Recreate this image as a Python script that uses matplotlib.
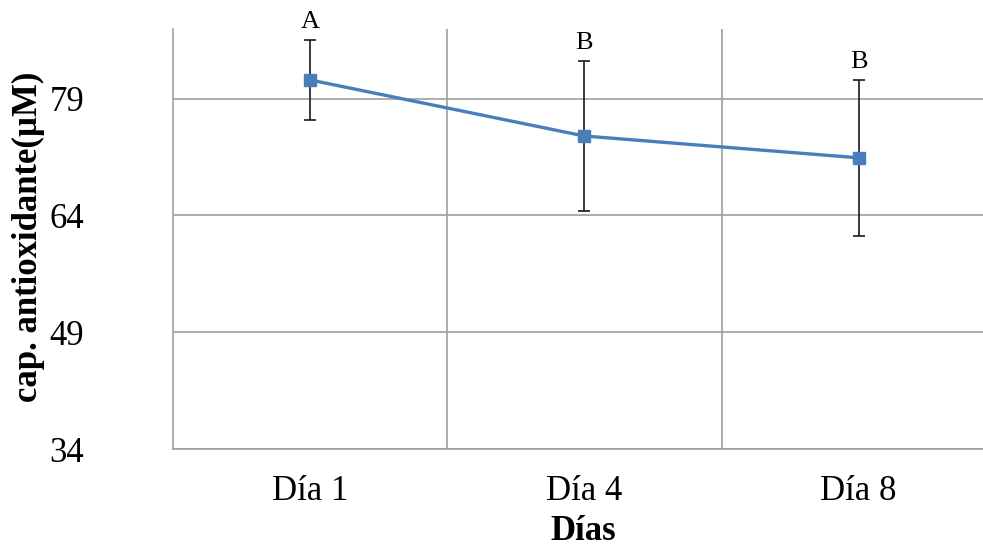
import numpy as np
import matplotlib.pyplot as plt

# capacidad antioxidante por día de almacenamiento
dias = ["Día 1", "Día 4", "Día 8"]
media = [81.4, 74.2, 71.4]
error = [5.1, 9.6, 10.0]
letras = ["A", "B", "B"]

plt.rcParams['font.family'] = ['Liberation Serif', 'DejaVu Serif']

fig = plt.figure(figsize=(9.83, 5.49), dpi=100)
ax = fig.add_axes([0.176, 0.182, 0.837, 0.766])

x = np.arange(len(dias))
grid_c = "#a0a0a0"

ax.errorbar(x, media, yerr=error, fmt="none", ecolor="#1a1a1a",
            elinewidth=1.2, capsize=4, capthick=1.2, zorder=3)
ax.plot(x, media, color="#4a7ebb", lw=2.4, marker="s", markersize=8,
        markeredgecolor="#4a7ebb", zorder=4)

for xi, m, e, t in zip(x, media, error, letras):
    ax.text(xi, m + e + 0.9, t, ha="center", va="bottom", fontsize=19)

ax.set_xlim(-0.5, 2.5)
ax.set_ylim(34, 88)
ax.set_yticks([34, 49, 64, 79])
ax.set_xticks(x)
ax.set_xticklabels(dias)
ax.set_xticks([0.5, 1.5], minor=True)

ax.grid(axis="y", which="major", color=grid_c, lw=1.2)
ax.grid(axis="x", which="minor", color=grid_c, lw=1.2)
ax.set_axisbelow(True)
ax.tick_params(which="both", length=0, labelsize=25)
ax.tick_params(axis="x", pad=19)
ax.tick_params(axis="y", pad=64)

for s in ["top", "right"]:
    ax.spines[s].set_visible(False)
for s in ["left", "bottom"]:
    ax.spines[s].set_color(grid_c)
    ax.spines[s].set_linewidth(1.2)

fig.text(0.0285, 0.568, "cap. antioxidante(µM)", rotation=90, ha="center",
         va="center", fontsize=25, fontweight="bold")
fig.text(0.593, 0.031, "Días", ha="center", va="center",
         fontsize=25, fontweight="bold")

fig.savefig("out.png", dpi=100)
